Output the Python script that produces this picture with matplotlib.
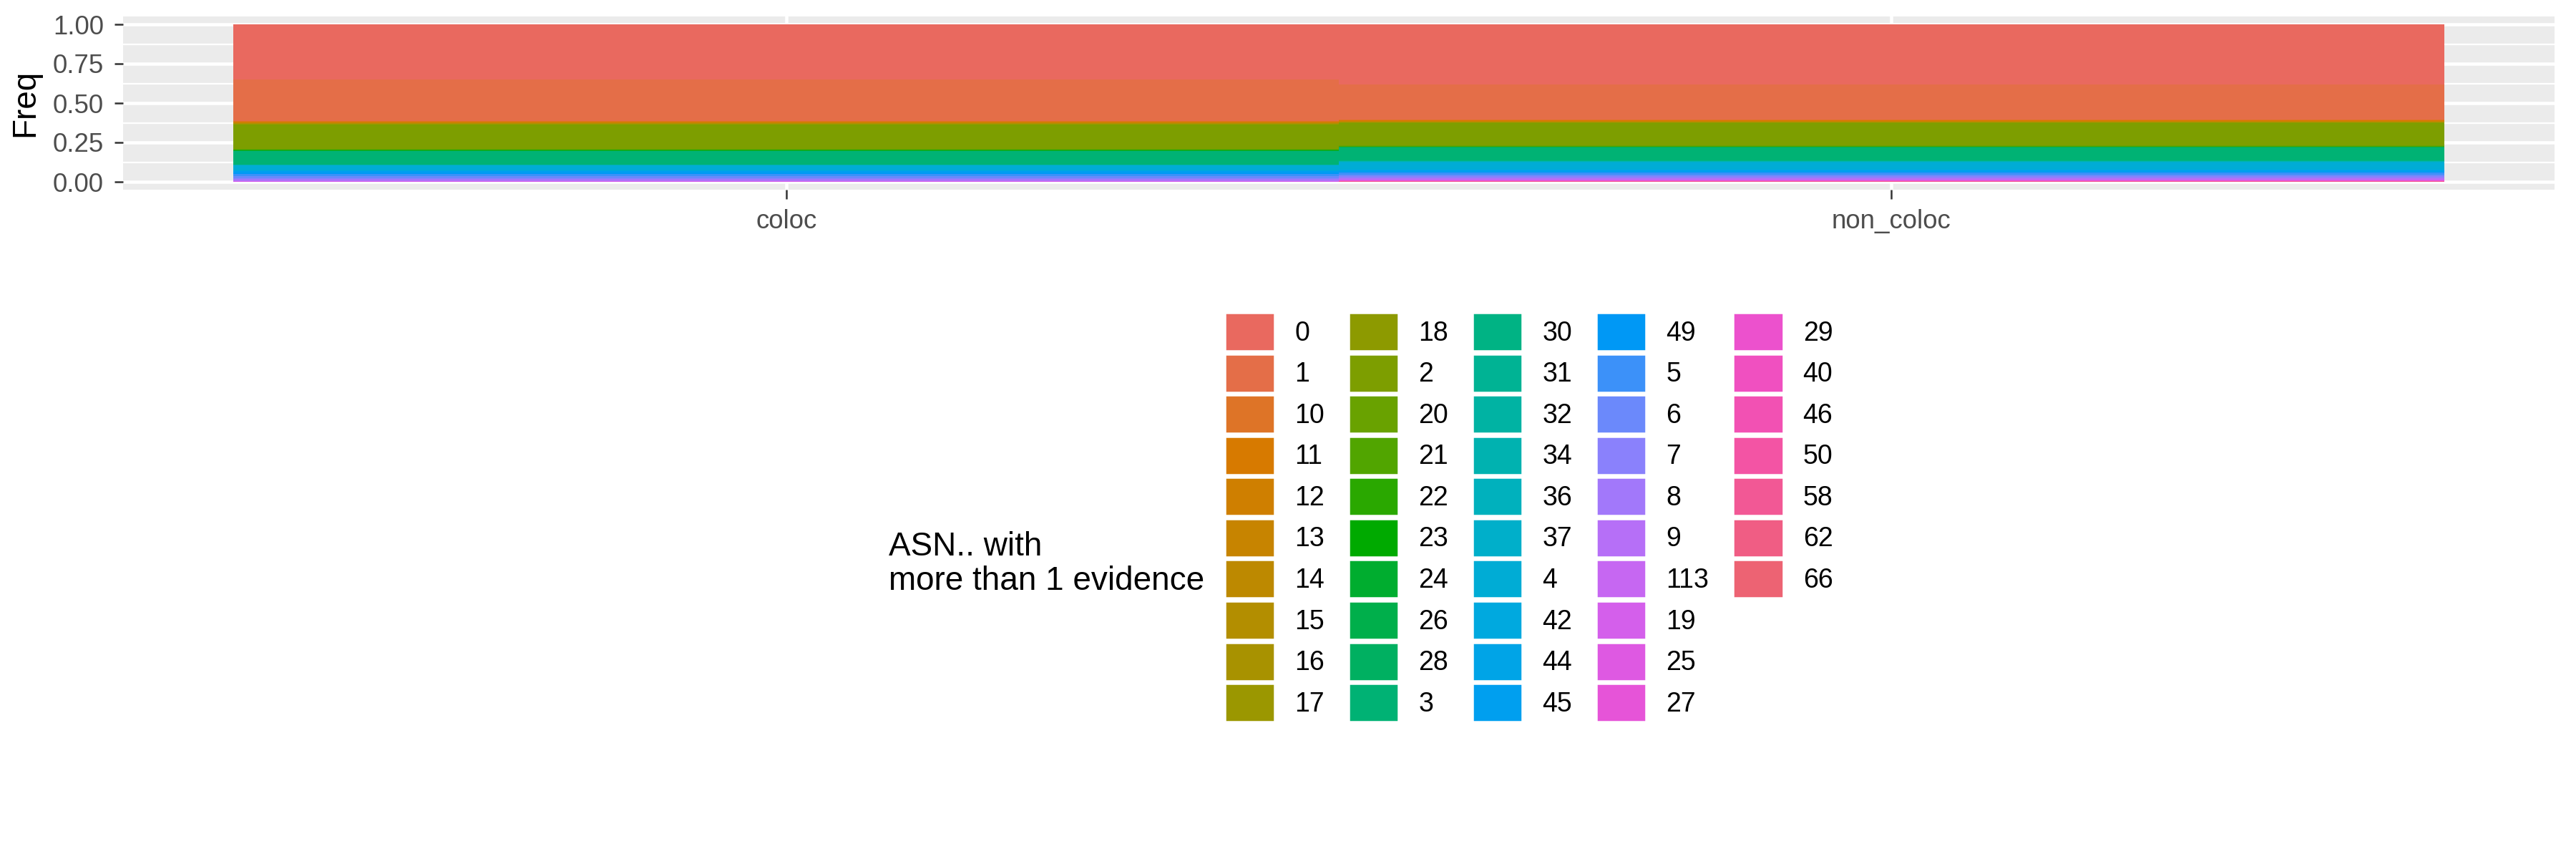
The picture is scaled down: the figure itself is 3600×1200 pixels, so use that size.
import matplotlib
matplotlib.use("Agg")
import matplotlib.pyplot as plt
import numpy as np
from matplotlib.patches import Patch

plt.rcParams["font.family"] = ["Liberation Sans", "DejaVu Sans"]

groups = ["coloc", "non_coloc"]
levels = ["0", "1", "10", "11", "12", "13", "14", "15", "16", "17",
          "18", "2", "20", "21", "22", "23", "24", "26", "28", "3",
          "30", "31", "32", "34", "36", "37", "4", "42", "44", "45",
          "49", "5", "6", "7", "8", "9", "113", "19", "25", "27",
          "29", "40", "46", "50", "58", "62", "66"]
coloc = [0.35, 0.265, 0.004, 0.003, 0.003, 0.003, 0.002, 0.002, 0.002, 0.002,
         0.003, 0.155, 0.002, 0.002, 0.002, 0.002, 0.002, 0.001, 0.001, 0.085,
         0.001, 0.001, 0.001, 0.001, 0.001, 0.001, 0.03, 0.002, 0.005, 0.01,
         0.008, 0.015, 0.01, 0.008, 0.007, 0.005, 0.002, 0.001, 0.001, 0.001,
         0, 0, 0, 0, 0, 0, 0]
non_coloc = [0.385, 0.225, 0.004, 0.003, 0.003, 0.002, 0.002, 0.002, 0.001, 0.001,
             0.002, 0.145, 0.003, 0.002, 0.002, 0.001, 0.001, 0.001, 0.001, 0.085,
             0.002, 0.001, 0.001, 0.001, 0.002, 0.003, 0.045, 0.004, 0.004, 0.006,
             0.006, 0.015, 0.01, 0.008, 0.006, 0.005, 0.003, 0.002, 0.002, 0.002,
             0.001, 0.001, 0.001, 0.001, 0.001, 0.001, 0.001]


def hue_pal(n, l=60, c=100):
    # ggplot2-style discrete palette (polar Luv -> sRGB)
    hues = np.linspace(15, 375 - 360 / n, n)
    xn, yn, zn = 95.047, 100.0, 108.883
    un = 4 * xn / (xn + 15 * yn + 3 * zn)
    vn = 9 * yn / (xn + 15 * yn + 3 * zn)
    m = np.array([[3.2404542, -1.5371385, -0.4985314],
                  [-0.9692660, 1.8760108, 0.0415560],
                  [0.0556434, -0.2040259, 1.0572252]])
    out = []
    for h in hues:
        u = c * np.cos(np.radians(h))
        v = c * np.sin(np.radians(h))
        y = yn * ((l + 16) / 116) ** 3
        up = u / (13 * l) + un
        vp = v / (13 * l) + vn
        x = 9 * y * up / (4 * vp)
        z = y * (12 - 3 * up - 20 * vp) / (4 * vp)
        rgb = m @ (np.array([x, y, z]) / 100)
        rgb = np.where(rgb <= 0.0031308, 12.92 * rgb, 1.055 * np.clip(rgb, 0, None) ** (1 / 2.4) - 0.055)
        out.append(tuple(np.clip(rgb, 0, 1)))
    return out


colors = hue_pal(len(levels))
vals = np.array([coloc, non_coloc]).T
vals = vals / vals.sum(axis=0)

fig = plt.figure(figsize=(12, 4), dpi=300)
ax = fig.add_axes([172 / 3600, 1 - 265 / 1200, (3570 - 172) / 3600, 242 / 1200])
ax.set_facecolor("#EBEBEB")
x = np.arange(1, len(groups) + 1)
top = np.ones(len(groups))
for i, lev in enumerate(levels):
    ax.bar(x, vals[i], bottom=top - vals[i], width=1.0, color=colors[i], linewidth=0, zorder=2)
    top = top - vals[i]
ax.set_xlim(0.4, 2.6)
ax.set_ylim(-0.05, 1.05)
ax.set_yticks([0, 0.25, 0.5, 0.75, 1.0])
ax.set_yticklabels(["0.00", "0.25", "0.50", "0.75", "1.00"])
ax.set_yticks([0.125, 0.375, 0.625, 0.875], minor=True)
ax.set_xticks(x)
ax.set_xticklabels(groups)
ax.grid(True, which="major", color="white", linewidth=1.1, zorder=0)
ax.grid(True, which="minor", axis="y", color="white", linewidth=0.55, zorder=0)
ax.tick_params(which="major", colors="#4D4D4D", labelsize=8.8, length=3, width=0.6, color="#333333")
ax.tick_params(which="minor", length=0)
for s in ax.spines.values():
    s.set_visible(False)
ax.set_ylabel("Freq", fontsize=11)

# pad with invisible entries so columns fill 10,10,10,10,7 like ggplot
handles = [Patch(facecolor=c, edgecolor="white", linewidth=0.6) for c in colors]
labels = list(levels)
for _ in range(3):
    handles.append(Patch(facecolor="none", edgecolor="none"))
    labels.append("")
fig.legend(handles, labels, ncol=5, loc="upper left",
           bbox_to_anchor=(1712 / 3600, 1 - 437 / 1200), frameon=False,
           fontsize=9, handlelength=1.85, handleheight=1.8, labelspacing=0.12,
           handletextpad=0.75, columnspacing=0.9, borderpad=0, borderaxespad=0)
fig.text(1242 / 3600, 1 - 788 / 1200, "ASN.. with\nmore than 1 evidence",
         fontsize=11, ha="left", va="center", linespacing=1.1)

fig.savefig("out.png", dpi=300)
